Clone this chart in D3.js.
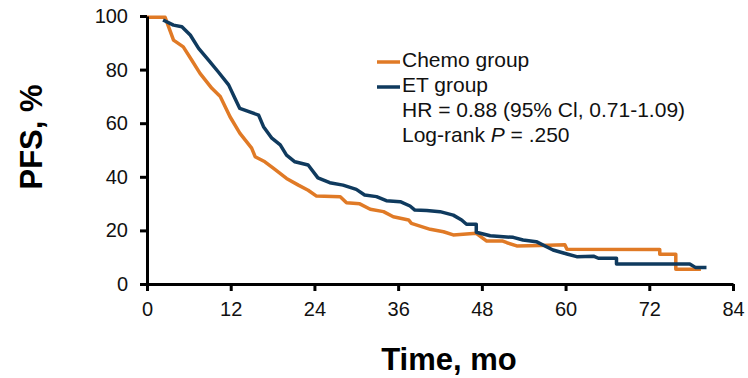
<!DOCTYPE html>
<html lang="en">
<head>
    <meta charset="UTF-8">
    <title>PFS by group</title>
    <script src="https://d3js.org/d3.v7.min.js"></script>
    <style>
        body { margin: 0; background: #fff; }
        text { font-family: "Liberation Sans", Arial, sans-serif; }
    </style>
</head>
<body>
    <div id="chart"></div>
    <script>
        // Kaplan-Meier PFS curves (time in months, PFS in %)
        const chemoTime = [0, 2.6, 3.8, 5.2, 6.4, 7.6, 9.3, 10.5, 11.9, 13.3, 15.0, 15.5, 16.9, 18.1, 20.0, 21.7, 23.1, 24.3, 27.7, 28.6, 30.5, 32.0, 33.9, 35.3, 37.5, 37.9, 40.6, 42.5, 43.9, 47.2, 48.7, 51.0, 51.6, 53.0, 56.3, 59.9, 60.2, 73.5, 73.5, 75.8, 75.8, 79.4];
        const chemoPFS  = [99.5, 99.5, 91, 88.5, 83.6, 78.6, 73, 70, 62.4, 56.3, 50.7, 47.5, 45.6, 43.2, 39.4, 36.9, 35, 32.8, 32.6, 30.3, 29.9, 27.9, 27, 25.1, 23.9, 22.6, 20.4, 19.5, 18.3, 18.9, 16, 16, 15.4, 14.2, 14.4, 14.6, 13, 12.9, 11.1, 11.1, 5.5, 5.5];

        const etTime = [2.3, 3.8, 5.0, 6.2, 7.4, 9.0, 10.2, 11.7, 12.6, 13.3, 16.0, 16.7, 17.9, 19.1, 20.0, 21.2, 23.1, 24.5, 26.2, 28.1, 30.0, 31.2, 32.9, 34.3, 36.3, 37.7, 38.4, 40.1, 42.0, 43.9, 45.1, 45.8, 47.2, 47.2, 49.2, 52.5, 53.9, 55.8, 58.2, 60.2, 61.6, 64.0, 64.7, 67.3, 67.3, 77.8, 78.6, 80.2];
        const etPFS  = [98.5, 96.6, 96, 92.9, 87.9, 83, 79.2, 74.3, 69.3, 65.5, 63, 58.7, 54.4, 51.9, 48.1, 45.6, 44.4, 39.6, 37.8, 36.9, 35.3, 33.2, 32.6, 31.1, 30.7, 29.1, 27.6, 27.4, 27, 25.7, 23.9, 22.3, 22.3, 19.3, 18, 17.4, 16.4, 15.8, 12.7, 11.2, 10.2, 10.4, 9.6, 9.6, 7.5, 7.5, 6.2, 6.2];

        const xTicks = [0, 12, 24, 36, 48, 60, 72, 84];
        const yTicks = [0, 20, 40, 60, 80, 100];

        const legendLabels = ["Chemo group", "ET group"];
        const colors = ["#e07a26", "#0f3a5e"];

        const svg = d3.select('#chart').append('svg')
            .attr('width', 748)
            .attr('height', 378);

        const margin = {top: 16, right: 15, bottom: 94, left: 147},
              width = +svg.attr('width') - margin.left - margin.right,
              height = +svg.attr('height') - margin.top - margin.bottom,
              g = svg.append('g').attr('transform', `translate(${margin.left},${margin.top})`);

        const x = d3.scaleLinear().domain([0, 84]).range([0, width]),
              y = d3.scaleLinear().domain([0, 100]).range([height, 0]);

        const line = d3.line()
            .x(d => x(d[0]))
            .y(d => y(d[1]));

        const series = [
            d3.zip(chemoTime, chemoPFS),
            d3.zip(etTime, etPFS)
        ];

        // curves
        series.forEach((pts, i) => {
            g.append("path")
                .datum(pts)
                .attr("fill", "none")
                .attr("stroke", colors[i])
                .attr("stroke-width", 3.5)
                .attr("stroke-linejoin", "round")
                .attr("d", line);
        });

        // axes
        const xAxis = g.append("g")
            .attr("transform", `translate(0,${height})`)
            .call(d3.axisBottom(x).tickValues(xTicks).tickSize(7).tickSizeOuter(0).tickPadding(11));

        const yAxis = g.append("g")
            .call(d3.axisLeft(y).tickValues(yTicks).tickSize(7).tickSizeOuter(0).tickPadding(12));

        [xAxis, yAxis].forEach(ax => {
            ax.select(".domain").attr("stroke", "#000").attr("stroke-width", 3);
            ax.selectAll(".tick line").attr("stroke", "#000").attr("stroke-width", 3);
            ax.selectAll(".tick text")
                .attr("fill", "#111")
                .style("font-size", "20px")
                .style("font-family", "'Liberation Sans', Arial, sans-serif");
        });

        // axis titles
        svg.append("text")
            .attr("x", 449)
            .attr("y", 370)
            .attr("text-anchor", "middle")
            .style("font-size", "31px")
            .style("font-weight", "bold")
            .text("Time, mo");

        svg.append("text")
            .attr("transform", "translate(42,137) rotate(-90)")
            .attr("text-anchor", "middle")
            .style("font-size", "31px")
            .style("font-weight", "bold")
            .text("PFS, %");

        // legend
        const legend = svg.append("g").attr("transform", "translate(377,0)");
        legendLabels.forEach((label, i) => {
            legend.append("line")
                .attr("x1", 0).attr("x2", 23)
                .attr("y1", 62 + i * 25).attr("y2", 62 + i * 25)
                .attr("stroke", colors[i])
                .attr("stroke-width", 3.5);
            legend.append("text")
                .attr("x", 25)
                .attr("y", 67 + i * 25)
                .style("font-size", "21px")
                .attr("fill", "#111")
                .text(label);
        });

        legend.append("text")
            .attr("x", 25)
            .attr("y", 117)
            .style("font-size", "21px")
            .attr("fill", "#111")
            .text("HR = 0.88 (95% Cl, 0.71-1.09)");

        const lr = legend.append("text")
            .attr("x", 25)
            .attr("y", 142)
            .style("font-size", "21px")
            .attr("fill", "#111");
        lr.append("tspan").text("Log-rank ");
        lr.append("tspan").style("font-style", "italic").text("P");
        lr.append("tspan").text(" = .250");
    </script>
</body>
</html>
